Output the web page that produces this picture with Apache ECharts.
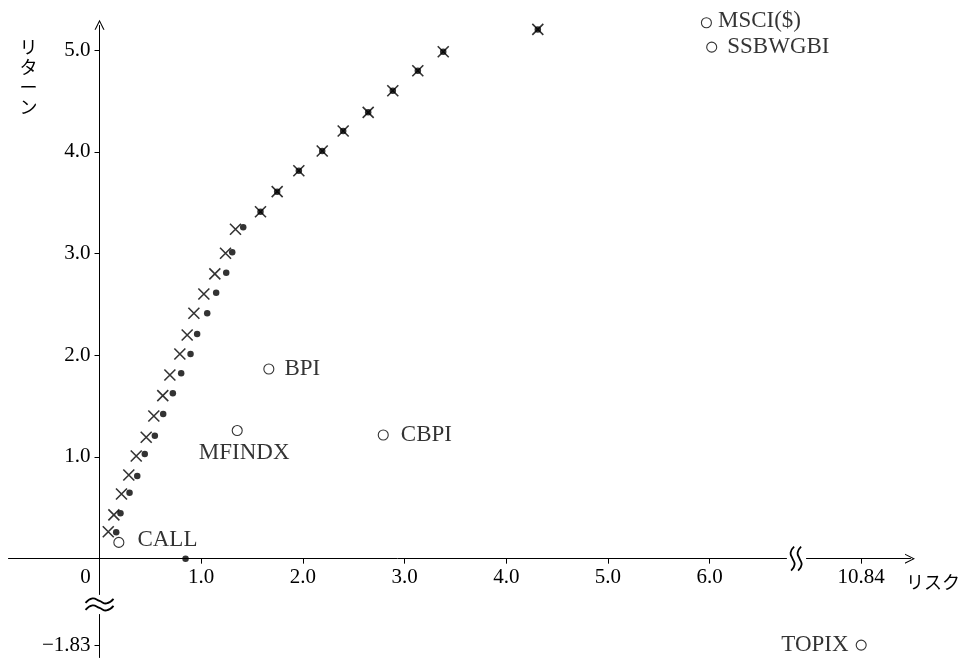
<!DOCTYPE html>
<html><head><meta charset="utf-8">
<script src="https://cdn.jsdelivr.net/npm/echarts@6/dist/echarts.min.js"></script>
<style>html,body{margin:0;padding:0;background:#fff}#c{width:979px;height:659px}</style>
</head><body><div id="c"></div>
<script>
// ---- data ----
const crossRisk   = [0.086,0.141,0.216,0.288,0.361,0.459,0.534,0.622,0.692,0.790,0.862,0.928,1.026,1.134,1.239,1.337,1.583,1.747,1.960,2.190,2.396,2.642,2.884,3.130,3.380,4.310];
const crossReturn = [0.265,0.430,0.636,0.823,1.010,1.194,1.403,1.603,1.806,2.013,2.200,2.413,2.603,2.800,3.003,3.239,3.412,3.609,3.815,4.009,4.206,4.389,4.602,4.798,4.985,5.205];
const dotRisk     = [0.164,0.206,0.295,0.371,0.445,0.544,0.626,0.721,0.803,0.895,0.960,1.059,1.147,1.246,1.305,1.413,1.583,1.747,1.960,2.190,2.396,2.642,2.884,3.130,3.380,4.310,0.846];
const dotReturn   = [0.260,0.446,0.649,0.813,1.030,1.209,1.423,1.626,1.823,2.013,2.209,2.413,2.616,2.812,3.013,3.259,3.412,3.609,3.815,4.009,4.206,4.389,4.602,4.798,4.985,5.205,0.000];
const indexNames  = ['CALL','MFINDX','BPI','CBPI','MSCI($)','SSBWGBI','TOPIX'];
const indexRisk   = [0.19,1.354,1.665,2.79,5.968,6.02,10.84];
const indexReturn = [0.16,1.26,1.865,1.216,5.27,5.03,-1.83];
const xTickValues  = [1,2,3,4,5,6,10.84];
const xLabelValues = [0,1,2,3,4,5,6,10.84];
const yTickValues  = [-1.83,1,2,3,4,5];
const xAxisTitle = 'リスク';
const yAxisTitle = 'リターン';

// ---- axis ranges / breaks ----
const X_MIN = -0.9, X_MAX = 11.32, X_BREAK = {start:6.75, end:10.3, gap:0.2};
const Y_MIN = -1.95, Y_MAX = 5.25, Y_BREAK = {start:-1.53, end:-0.35, gap:0.2};

// ---- styles ----
const serif = '"Liberation Serif","Times New Roman",serif';
const jp = '"Noto Sans CJK JP",sans-serif';
const labelPlace = {
  'CALL':    {position:'right', distance:13, offset:[0,-2]},
  'MFINDX':  {position:'bottom', distance:5, offset:[7,0]},
  'BPI':     {position:'right', distance:10, offset:[0,0]},
  'CBPI':    {position:'right', distance:12, offset:[0,0]},
  'MSCI($)': {position:'right', distance:6, offset:[0,-2]},
  'SSBWGBI': {position:'right', distance:10, offset:[0,0]},
  'TOPIX':   {position:'left', distance:7, offset:[0,0]}
};
const crossPath = 'path://M0,0L10,10M10,0L0,10';
const chevron = 'path://M5,0L10,10L8.8,10L5,2.2L1.2,10L0,10Z';

const chart = echarts.init(document.getElementById('c'), null, {renderer:'canvas'});

function buildOption(xOffset, yOffset){
  return {
    animation:false,
    backgroundColor:'#fff',
    grid:{left:8, right:69, top:24.8, bottom:1.7, containLabel:false, outerBoundsMode:'none'},
    xAxis:{
      type:'value', min:X_MIN, max:X_MAX, position:'bottom', offset:xOffset,
      breaks:[X_BREAK],
      breakArea:{show:false},
      splitLine:{show:false},
      axisLine:{onZero:false, lineStyle:{color:'#000', width:1}, symbol:['none', chevron], symbolSize:[10,11]},
      axisTick:{show:true, length:5, lineStyle:{color:'#000', width:1}, customValues:xTickValues},
      axisLabel:{
        customValues:xLabelValues, color:'#000', fontFamily:serif, fontSize:21, margin:8,
        formatter:function(v){ if (v===0) return '{z|0}'; return (v===10.84)?'10.84':v.toFixed(1); },
        rich:{z:{padding:[0,28,0,0], fontFamily:serif, fontSize:21, color:'#000'}}
      }
    },
    yAxis:{
      type:'value', min:Y_MIN, max:Y_MAX, position:'left', offset:yOffset,
      breaks:[Y_BREAK],
      breakArea:{show:false},
      splitLine:{show:false},
      axisLine:{onZero:false, lineStyle:{color:'#000', width:1}, symbol:['none', chevron], symbolSize:[10,11]},
      axisTick:{show:true, length:5, lineStyle:{color:'#000', width:1}, customValues:yTickValues},
      axisLabel:{
        customValues:yTickValues, color:'#000', fontFamily:serif, fontSize:21, margin:9,
        formatter:function(v){ return v<0 ? '\u2212' + Math.abs(v).toFixed(2) : v.toFixed(1); }
      }
    },
    series:[
      {
        type:'scatter', name:'cross', clip:false, symbol:crossPath, symbolSize:11,
        itemStyle:{color:'transparent', borderColor:'#000', borderWidth:1.6},
        data:crossRisk.map((x,i)=>[x, crossReturn[i]]), z:3
      },
      {
        type:'scatter', name:'dot', clip:false, symbol:'circle', symbolSize:6.5,
        itemStyle:{color:'#000'},
        data:dotRisk.map((x,i)=>[x, dotReturn[i]]), z:4
      },
      {
        type:'scatter', name:'index', clip:false, symbol:'circle', symbolSize:10,
        itemStyle:{color:'#fff', borderColor:'#000', borderWidth:1.1},
        data:indexNames.map((n,i)=>({
          value:[indexRisk[i], indexReturn[i]], name:n,
          label:Object.assign({show:true, formatter:n, color:'#000', fontFamily:serif, fontSize:23}, labelPlace[n])
        })), z:5
      }
    ]
  };
}

chart.setOption(buildOption(0, 0));
// place the axis lines through the origin using the library's own scales
const toPx = v => chart.convertToPixel({gridIndex:0}, v);
const origin = toPx([0, 0]);
const corner = toPx([X_MIN, Y_MIN]);
chart.setOption(buildOption(-(corner[1] - origin[1]), -(origin[0] - corner[0])), {notMerge:true});

// break marks and axis titles, positioned from the axis scales
const o = toPx([0, 0]);
const xb0 = toPx([X_BREAK.start, 0]), xb1 = toPx([X_BREAK.end, 0]);
const yb0 = toPx([0, Y_BREAK.start]), yb1 = toPx([0, Y_BREAK.end]);
const xc = (xb0[0]+xb1[0])/2, xy = o[1];
const yx = o[0], yc = (yb0[1]+yb1[1])/2;
const tr = toPx([X_MAX, Y_MAX]);
function wave(cx, cy, pts){ return pts.map(p=>[cx+p[0], cy+p[1]]); }
const vWave = [[1.5,-12],[-2,-6],[0,0],[2,6],[-1.5,12]];
const hWave = [[-14,2],[-7,-2.5],[0,0],[7,2.5],[14,-2]];
chart.setOption({graphic:[
  {type:'rect', shape:{x:xc-4, y:xy-3, width:8, height:6}, style:{fill:'#fff'}, z:10},
  {type:'polyline', shape:{points:wave(xc-3.5, xy, vWave), smooth:0.5}, style:{stroke:'#000', lineWidth:1.8, fill:null}, z:11},
  {type:'polyline', shape:{points:wave(xc+3.5, xy, vWave), smooth:0.5}, style:{stroke:'#000', lineWidth:1.8, fill:null}, z:11},
  {type:'polyline', shape:{points:wave(yx, yc-3.5, hWave), smooth:0.5}, style:{stroke:'#000', lineWidth:1.8, fill:null}, z:11},
  {type:'polyline', shape:{points:wave(yx, yc+3.5, hWave), smooth:0.5}, style:{stroke:'#000', lineWidth:1.8, fill:null}, z:11},
  {type:'text', x:tr[0]-4, y:o[1]+23, style:{text:xAxisTitle, font:'18px '+jp, fill:'#000', textAlign:'left', textVerticalAlign:'middle'}, z:12},
  {type:'text', x:o[0]-71, y:tr[1]+12, style:{text:yAxisTitle.split('').join('\n'), font:'18px '+jp, lineHeight:20, fill:'#000', textAlign:'center', textVerticalAlign:'top'}, z:12}
]});
</script>
</body></html>
